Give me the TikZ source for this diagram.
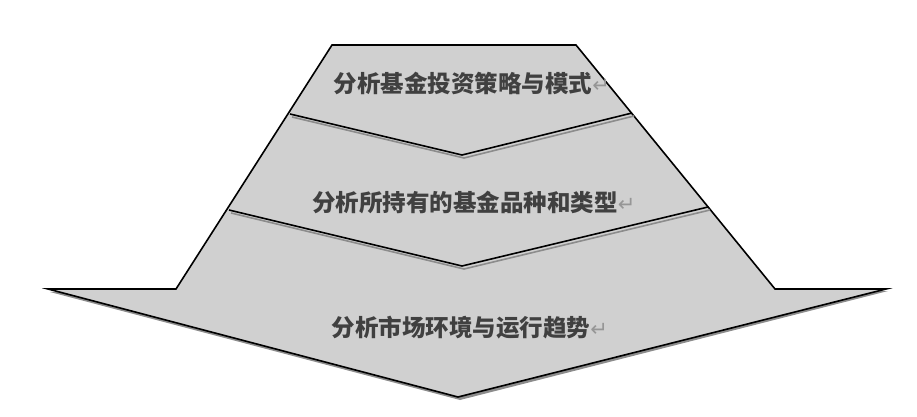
\documentclass[tikz,border=0pt]{standalone}
\usepackage{fontspec}
\newfontfamily\cjk{Noto Sans CJK SC}
\newfontfamily\symf{DejaVu Sans}
\definecolor{fillgray}{RGB}{208,208,208}
\definecolor{shadowgray}{RGB}{140,140,140}
\definecolor{markgray}{RGB}{150,150,150}
\tikzset{
  outline/.style={draw=black, line width=1.6pt, line join=miter, fill=fillgray},
  chev/.style={draw=black, line width=1.6pt},
  chevshadow/.style={draw=shadowgray, line width=1.6pt},
  label/.style={font=\cjk\bfseries\fontsize{23.5}{26}\selectfont, text=black!75, inner sep=0pt, anchor=center},
}
\newcommand{\pmark}{{\symf\mdseries\fontsize{21}{21}\selectfont\color{markgray}↵}}
\begin{document}
\begin{tikzpicture}[x=1pt,y=-1pt]
\useasboundingbox (0,0) rectangle (917,417);
% shadow of outer shape
\fill[shadowgray] (334,47) -- (578,47) -- (777,291) -- (888,291) -- (460,400) -- (50,292) -- (178,291) -- cycle;
% outer shape
\draw[outline] (332,45) coordinate (tl) -- (576,45) coordinate (tr) -- (775,289) coordinate (rs) -- (886,289) coordinate (rw) -- (458,397) coordinate (tip) -- (48,289) coordinate (lw) -- (176,289) coordinate (ls) -- cycle;
% chevron 1
\coordinate (c1l) at (290,114);
\coordinate (c1v) at (462,155);
\coordinate (c1r) at (632,113);
\draw[chevshadow] ([shift={(2,3)}]c1l) -- ([shift={(2,3)}]c1v) -- ([shift={(2,3)}]c1r);
\draw[chev] (c1l) -- (c1v) -- (c1r);
% chevron 2
\coordinate (c2l) at (229,210);
\coordinate (c2v) at (462,266);
\coordinate (c2r) at (708,207);
\draw[chevshadow] ([shift={(2,3)}]c2l) -- ([shift={(2,3)}]c2v) -- ([shift={(2,3)}]c2r);
\draw[chev] (c2l) -- (c2v) -- (c2r);
% labels
\node[label] (t1) at (472,83) {分析基金投资策略与模式\pmark};
\node[label] (t2) at (474,203) {分析所持有的基金品种和类型\pmark};
\node[label] (t3) at (470,328) {分析市场环境与运行趋势\pmark};
\end{tikzpicture}
\end{document}
